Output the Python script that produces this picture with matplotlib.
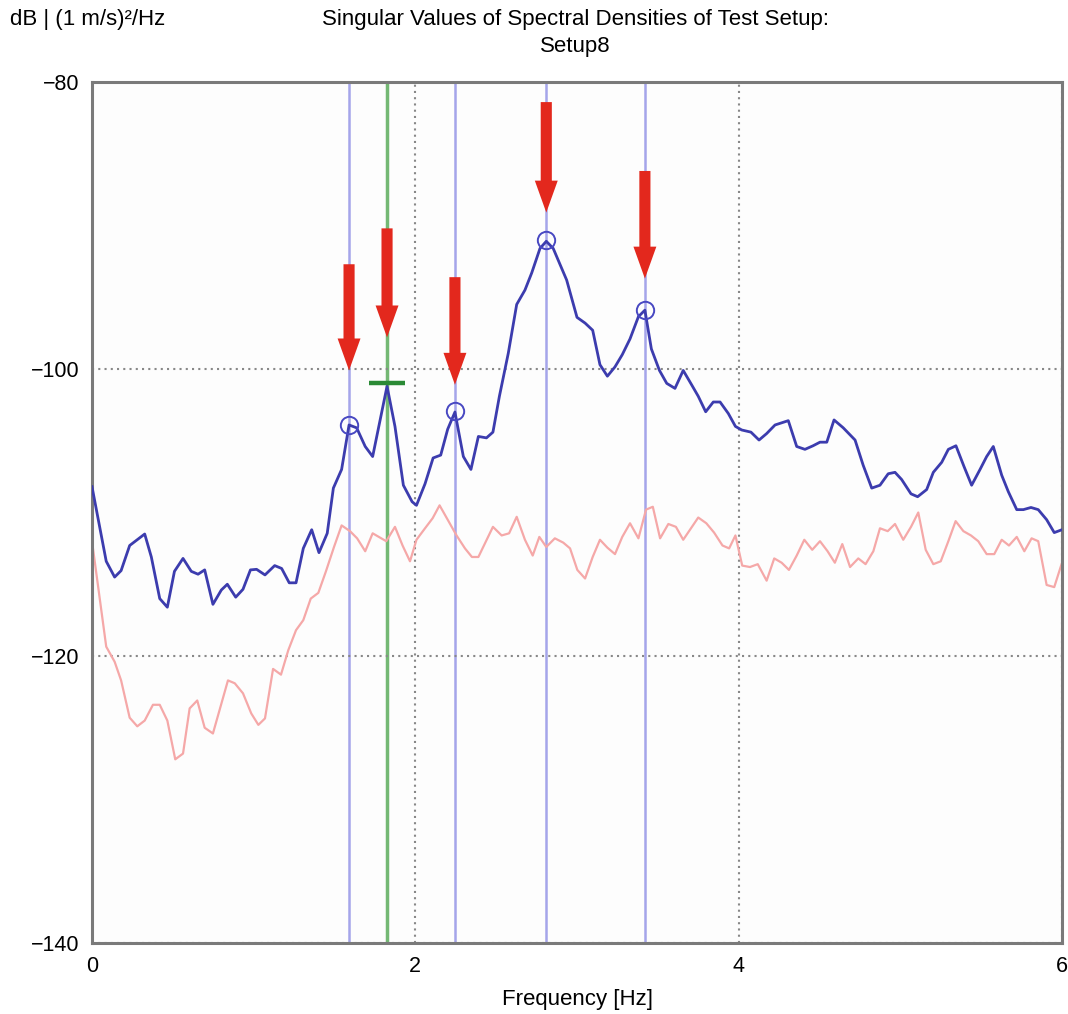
import matplotlib
matplotlib.use("Agg")
import matplotlib.pyplot as plt

plt.rcParams['font.family'] = ['Liberation Sans', 'DejaVu Sans']

# first singular value (blue)
f1 = [0.0, 0.088, 0.14, 0.18, 0.233, 0.326, 0.367, 0.419, 0.466, 0.51, 0.563, 0.614,
      0.656, 0.697, 0.748, 0.80, 0.837, 0.889, 0.934, 0.98, 1.018, 1.07, 1.13, 1.173,
      1.22, 1.262, 1.307, 1.359, 1.404, 1.455, 1.493, 1.544, 1.59, 1.637, 1.69, 1.736,
      1.825, 1.874, 1.926, 1.98, 2.007, 2.06, 2.11, 2.157, 2.2, 2.245, 2.297, 2.344,
      2.39, 2.44, 2.48, 2.52, 2.575, 2.627, 2.678, 2.72, 2.771, 2.81, 2.853, 2.936,
      3.0, 3.05, 3.097, 3.142, 3.188, 3.235, 3.28, 3.328, 3.38, 3.42, 3.46, 3.51,
      3.555, 3.606, 3.657, 3.709, 3.75, 3.796, 3.843, 3.885, 3.936, 3.98, 4.019, 4.076,
      4.126, 4.173, 4.225, 4.307, 4.359, 4.41, 4.46, 4.503, 4.545, 4.59, 4.647, 4.72,
      4.77, 4.823, 4.874, 4.925, 4.967, 5.008, 5.066, 5.107, 5.163, 5.204, 5.256, 5.297,
      5.344, 5.394, 5.441, 5.493, 5.534, 5.575, 5.627, 5.668, 5.72, 5.761, 5.808, 5.853,
      5.905, 5.952, 6.0]
sv1 = [-108.2, -113.4, -114.5, -114.05, -112.3, -111.5, -113.1, -116.0, -116.6, -114.1, -113.2, -114.1,
       -114.3, -114.0, -116.4, -115.4, -115.0, -115.9, -115.35, -114.0, -113.96, -114.35, -113.7, -113.9,
       -114.9, -114.9, -112.5, -111.2, -112.8, -111.45, -108.3, -107.0, -103.9, -104.1, -105.4, -106.1,
       -101.2, -104.0, -108.1, -109.25, -109.5, -108.0, -106.2, -106.0, -104.2, -103.0, -106.1, -107.0,
       -104.7, -104.8, -104.4, -101.9, -98.9, -95.5, -94.5, -93.3, -91.6, -91.1, -91.6, -93.8,
       -96.4, -96.8, -97.3, -99.7, -100.5, -99.85, -99.0, -97.9, -96.35, -95.9, -98.6, -100.1,
       -101.0, -101.35, -100.1, -101.1, -101.9, -102.98, -102.3, -102.3, -103.1, -104.0, -104.25, -104.4,
       -104.95, -104.5, -103.9, -103.6, -105.4, -105.6, -105.35, -105.1, -105.1, -103.55, -104.1, -104.95,
       -106.7, -108.3, -108.1, -107.3, -107.2, -107.7, -108.7, -108.9, -108.4, -107.2, -106.5, -105.6,
       -105.35, -106.8, -108.1, -107.0, -106.1, -105.4, -107.4, -108.55, -109.8, -109.8, -109.65, -109.8,
       -110.5, -111.4, -111.2]

# second singular value (pink)
f2 = [0.0, 0.088, 0.14, 0.18, 0.233, 0.28, 0.326, 0.377, 0.419, 0.466, 0.515, 0.563,
      0.604, 0.651, 0.697, 0.748, 0.841, 0.883, 0.934, 0.985, 1.029, 1.07, 1.12, 1.169,
      1.214, 1.262, 1.307, 1.353, 1.4, 1.447, 1.497, 1.544, 1.596, 1.64, 1.69, 1.736,
      1.82, 1.874, 1.921, 1.967, 2.007, 2.06, 2.107, 2.15, 2.2, 2.255, 2.307, 2.35,
      2.39, 2.48, 2.534, 2.58, 2.627, 2.678, 2.726, 2.767, 2.81, 2.863, 2.915, 2.957,
      3.002, 3.05, 3.097, 3.142, 3.188, 3.235, 3.28, 3.328, 3.38, 3.427, 3.469, 3.514,
      3.565, 3.612, 3.657, 3.75, 3.80, 3.848, 3.9, 3.941, 3.98, 4.022, 4.07, 4.118,
      4.173, 4.22, 4.266, 4.311, 4.359, 4.406, 4.455, 4.503, 4.55, 4.595, 4.641, 4.689,
      4.74, 4.785, 4.833, 4.874, 4.922, 4.967, 5.018, 5.066, 5.111, 5.157, 5.204, 5.25,
      5.297, 5.342, 5.39, 5.437, 5.482, 5.534, 5.581, 5.627, 5.672, 5.72, 5.767, 5.812,
      5.853, 5.905, 5.952, 6.0]
sv2 = [-112.0, -119.35, -120.4, -121.7, -124.3, -124.9, -124.5, -123.4, -123.4, -124.5, -127.2, -126.8,
       -123.65, -123.1, -125.0, -125.4, -121.7, -121.9, -122.6, -124.0, -124.8, -124.35, -120.9, -121.3,
       -119.6, -118.2, -117.5, -116.0, -115.6, -114.1, -112.4, -110.9, -111.3, -111.8, -112.7, -111.45,
       -112.0, -111.0, -112.3, -113.4, -111.9, -111.1, -110.4, -109.5, -110.5, -111.6, -112.5, -113.1,
       -113.1, -111.0, -111.6, -111.45, -110.3, -111.9, -113.0, -111.7, -112.4, -111.8, -112.1, -112.5,
       -114.0, -114.6, -113.1, -111.9, -112.45, -112.9, -111.7, -110.75, -111.8, -109.8, -109.6, -111.8,
       -110.8, -111.0, -111.9, -110.35, -110.75, -111.4, -112.3, -112.5, -111.6, -113.7, -113.8, -113.6,
       -114.75, -113.2, -113.5, -114.0, -113.0, -111.9, -112.6, -112.0, -112.7, -113.5, -112.2, -113.8,
       -113.2, -113.6, -112.7, -111.1, -111.3, -110.8, -111.9, -111.0, -110.0, -112.6, -113.6, -113.4,
       -112.0, -110.6, -111.3, -111.6, -112.0, -112.9, -112.9, -111.9, -112.3, -111.7, -112.7, -111.8,
       -112.0, -115.05, -115.2, -113.5]

# picked peaks (blue lines + circles) and the green one
peak_f = [1.59, 2.245, 2.81, 3.42]
peak_db = [-103.9, -102.9, -91.0, -95.9]
green_f = 1.825
green_db = -101.0

# red arrows: x, tail, tip
arrow_f = [1.59, 1.825, 2.245, 2.81, 3.42]
arrow_tail = [-92.7, -90.2, -93.6, -81.4, -86.2]
arrow_tip = [-100.1, -97.8, -101.1, -89.1, -93.7]

fig = plt.figure(figsize=(10.68, 10.14), dpi=100)
ax = fig.add_axes([92 / 1068, 1 - 943 / 1014, 970 / 1068, 861 / 1014])
ax.set_facecolor('#fdfdfd')

for x in peak_f:
    ax.axvline(x, color='#a5a5ea', lw=1.8, zorder=1)
ax.axvline(green_f, color='#74b874', lw=2.5, zorder=1)

ax.plot(f2, sv2, color='#f5a8a8', lw=1.6, zorder=2)
ax.plot(f1, sv1, color='#3c3cae', lw=2.0, zorder=3)

ax.plot(peak_f, peak_db, 'o', ms=12.5, mfc='none', mec='#4848c2', mew=1.4, zorder=4)
ax.plot([green_f], [green_db], '_', ms=26, mec='#2a8a35', mew=3.2, zorder=4)

for x, t0, t1 in zip(arrow_f, arrow_tail, arrow_tip):
    ax.annotate('', xy=(x, t1), xytext=(x, t0),
                arrowprops=dict(arrowstyle='simple,head_width=1.65,head_length=2.3,tail_width=0.8',
                                mutation_scale=10, color='#e3281d', lw=0,
                                shrinkA=0, shrinkB=0), zorder=5)

ax.set_xlim(0, 6)
ax.set_ylim(-140, -80)
ax.set_xticks([0, 2, 4, 6])
ax.set_yticks([-140, -120, -100, -80])
ax.set_yticklabels(['\u2212140', '\u2212120', '\u2212100', '\u221280'])
ax.tick_params(length=0, labelsize=15.5, pad=9)
ax.grid(True, color='#888888', ls=(0, (1, 2)), lw=1.5)
for s in ax.spines.values():
    s.set_color('#7a7a7a')
    s.set_linewidth(2.2)

ax.set_xlabel('Frequency [Hz]', fontsize=16, labelpad=9)
fig.text(10 / 1068, 1 - 20 / 1014, 'dB | (1 m/s)\u00b2/Hz', fontsize=16, ha='left', va='center')
fig.text(575 / 1068, 1 - 33 / 1014, 'Singular Values of Spectral Densities of Test Setup:\nSetup8',
         fontsize=16, ha='center', va='center', linespacing=1.35)

fig.savefig('out.png', dpi=100)
